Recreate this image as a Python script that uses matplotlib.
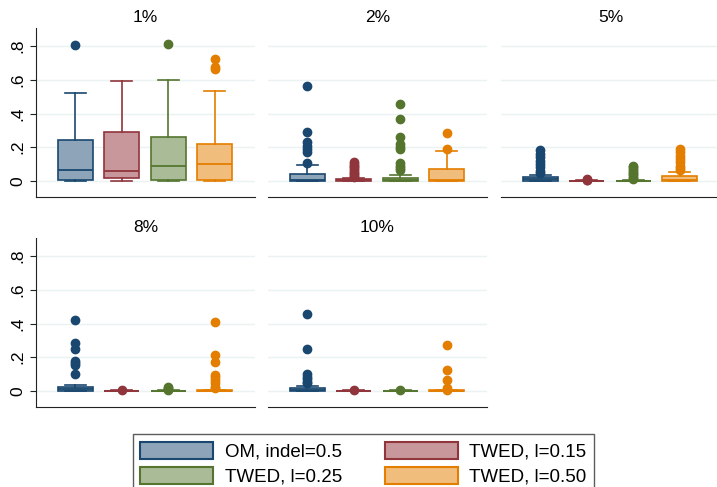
import matplotlib.pyplot as plt
from matplotlib.patches import Patch

plt.rcParams['font.family'] = ['Liberation Sans', 'DejaVu Sans']

panels = ['1%', '2%', '5%', '8%', '10%']
methods = ['OM, indel=0.5', 'TWED, l=0.15', 'TWED, l=0.25', 'TWED, l=0.50']
edge_colors = ['#1a476f', '#90353b', '#55752f', '#e37e00']
fill_colors = ['#8ea4b8', '#c8979b', '#aabb97', '#f1bd7c']

# per panel, per method (OM, TWED .15, TWED .25, TWED .50)
q1 = [[.005, .015, .008, .006],
      [.002, .0, .001, .0],
      [.002, .0, .0, .002],
      [.002, .0, .0, .0],
      [.002, .0, .0, .0]]
med = [[.067, .058, .086, .098],
       [.008, .003, .005, .005],
       [.010, .0, .001, .008],
       [.010, .0, .0, .002],
       [.008, .0, .0, .001]]
q3 = [[.242, .292, .258, .220],
      [.043, .010, .018, .071],
      [.022, .002, .002, .028],
      [.021, .002, .002, .005],
      [.016, .002, .002, .003]]
whislo = [[0, 0, 0, 0]] * 5
whishi = [[.523, .594, .598, .533],
          [.097, .016, .036, .175],
          [.036, .004, .005, .055],
          [.036, .003, .004, .008],
          [.030, .003, .003, .005]]
fliers = [
    [[.805], [], [.815], [.722, .678, .662]],
    [[.563, .292, .233, .21, .19, .17, .105],
     [.11, .10, .09, .08, .07, .06, .05, .04, .03, .025],
     [.455, .37, .26, .222, .20, .19, .105, .09, .075, .065],
     [.285, .19]],
    [[.185, .16, .14, .12, .10, .08, .06, .05],
     [.012, .008, .006],
     [.088, .08, .07, .06, .05, .04, .03, .02, .01],
     [.19, .17, .15, .13, .11, .09, .075, .065]],
    [[.42, .284, .25, .18, .165, .155, .103],
     [.003],
     [.022, .015, .01, .005],
     [.41, .216, .17, .095, .08, .065, .05, .025, .015]],
    [[.457, .25, .103, .085, .07, .055, .045],
     [.004],
     [.004],
     [.27, .127, .065, .018, .008]],
]

yticks = [0, .2, .4, .6, .8]
yticklabels = ['0', '.2', '.4', '.6', '.8']

fig = plt.figure(figsize=(7.17, 4.87), dpi=100)

W, H = 717, 487
lefts = [36, 268, 501]
tops = [28, 238]
pw, ph = 219, 169

for p, title in enumerate(panels):
    row, col = divmod(p, 3)
    ax = fig.add_axes([lefts[col] / W, 1 - (tops[row] + ph) / H, pw / W, ph / H])
    for m in range(4):
        st = [dict(med=med[p][m], q1=q1[p][m], q3=q3[p][m],
                   whislo=whislo[p][m], whishi=whishi[p][m], fliers=fliers[p][m])]
        ec = edge_colors[m]
        ax.bxp(st, positions=[m + 1], widths=0.75, capwidths=0.45,
               patch_artist=True, manage_ticks=False,
               boxprops=dict(facecolor=fill_colors[m], edgecolor=ec, linewidth=1.2),
               medianprops=dict(color=ec, linewidth=1.3),
               whiskerprops=dict(color=ec, linewidth=1.2),
               capprops=dict(color=ec, linewidth=1.2),
               flierprops=dict(marker='o', markerfacecolor=ec, markeredgecolor=ec,
                               markersize=6, linestyle='none'))
    ax.set_xlim(0.15, 4.87)
    ax.set_ylim(-0.095, 0.907)
    ax.set_yticks(yticks)
    ax.grid(axis='y', color='#eaf2f3', linewidth=1)
    ax.set_axisbelow(True)
    ax.set_xticks([])
    ax.set_title(title, fontsize=12.5, pad=4)
    for s in ['top', 'right']:
        ax.spines[s].set_visible(False)
    ax.spines['bottom'].set_color('#222222')
    if col == 0:
        ax.set_yticklabels(yticklabels, rotation=90, va='center', fontsize=12.5)
        ax.tick_params(axis='y', length=4, color='#222222')
        ax.spines['left'].set_color('#222222')
    else:
        ax.spines['left'].set_visible(False)
        ax.tick_params(axis='y', length=0, labelleft=False)

# legend is row-major in the reference, matplotlib fills columns first
order = [0, 2, 1, 3]
handles = [Patch(facecolor=fill_colors[i], edgecolor=edge_colors[i], linewidth=1.5)
           for i in order]
labels = [methods[i] for i in order]
leg = fig.legend(handles, labels, ncol=2, loc='upper center',
                 bbox_to_anchor=(0.507, 1 - 425 / H), fontsize=13.5,
                 handlelength=3.9, handleheight=1.05, handletextpad=0.6,
                 columnspacing=2.3, labelspacing=0.3, borderpad=0.4,
                 fancybox=False, edgecolor='#333333')
leg.get_frame().set_linewidth(1)

fig.savefig('out.png', dpi=100)
